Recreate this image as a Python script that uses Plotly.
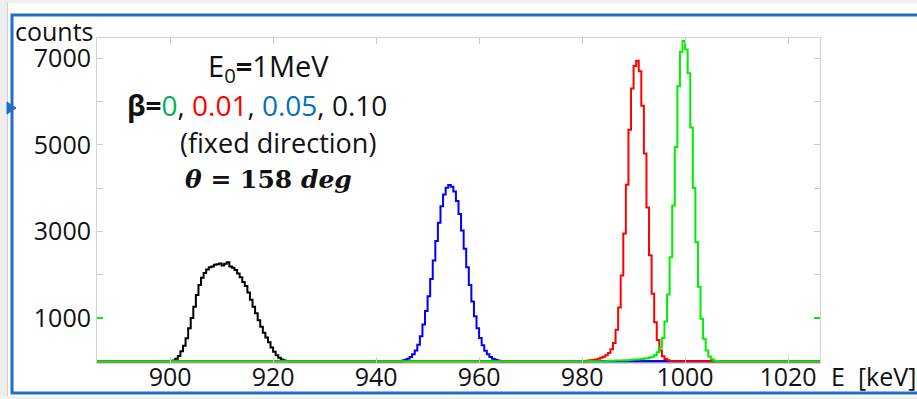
import numpy as np
import plotly.graph_objects as go

# ---------------- data ----------------
bin_width = 0.5                      # keV
e_min, e_max = 885.5, 1026.5         # histogram extent (keV)

series_names = ["β=0.10", "β=0.05", "β=0.01", "β=0"]
series_colors = ["#000000", "#0000ff", "#ff0000", "#00ee00"]

# beta = 0.10 (black), first bin edge and counts per 0.5 keV bin
beta010_start = 900.0
beta010_counts = [5, 20, 60, 120, 230, 360, 530, 760, 1000, 1260,
                  1530, 1760, 1930, 2040, 2120, 2170, 2190, 2230, 2240, 2260,
                  2210, 2250, 2290, 2190, 2160, 2110, 2030, 1940, 1830, 1740,
                  1590, 1420, 1260, 1110, 950, 800, 660, 550, 440, 320,
                  220, 140, 80, 40, 15, 5]

# beta = 0.05 (blue)
beta005_start = 945.0
beta005_counts = [20, 35, 60, 100, 160, 250, 380, 580, 850, 1160,
                  1500, 1900, 2330, 2780, 3200, 3580, 3850, 4010, 4070, 4030,
                  3920, 3700, 3400, 3020, 2600, 2170, 1760, 1380, 1040, 760,
                  540, 370, 245, 160, 100, 60, 35, 20]

# beta = 0.01 (red)
beta001_start = 981.0
beta001_counts = [15, 22, 30, 42, 58, 80, 105, 140, 190, 280,
                  420, 730, 1240, 1980, 2950, 4080, 5350, 6300, 6820, 6940,
                  6700, 5900, 4800, 3550, 2450, 1560, 900, 490, 250, 118,
                  52, 22, 8]

# beta = 0 (green)
beta000_start = 985.0
beta000_counts = [10, 12, 14, 16, 18, 20, 23, 26, 30, 34,
                  38, 43, 48, 54, 62, 72, 85, 105, 140, 210,
                  320, 540, 920, 1540, 2400, 3600, 4950, 6350, 7150, 7400,
                  7200, 6650, 5400, 4000, 2750, 1720, 980, 520, 250, 110,
                  45, 16, 6]

x_ticks = [900, 920, 940, 960, 980, 1000, 1020]
y_ticks = [1000, 2000, 3000, 4000, 5000, 6000, 7000]
y_tick_text = ["1000", "", "3000", "", "5000", "", "7000"]
x_range = [885.8, 1026.2]
y_range = [-40, 7467]

# ---------------- build histograms ----------------
edges = np.arange(e_min, e_max + bin_width / 2, bin_width)


def full_hist(start, counts):
    h = np.zeros(len(edges) - 1)
    i0 = int(round((start - e_min) / bin_width))
    h[i0:i0 + len(counts)] = counts
    return h


hists = [full_hist(beta010_start, beta010_counts),
         full_hist(beta005_start, beta005_counts),
         full_hist(beta001_start, beta001_counts),
         full_hist(beta000_start, beta000_counts)]

fig = go.Figure()
for name, col, h in zip(series_names, series_colors, hists):
    fig.add_trace(go.Scatter(
        x=edges, y=np.append(h, h[-1]), mode="lines", line_shape="hv",
        line=dict(color=col, width=2), name=name, showlegend=False,
        hoverinfo="skip"))

# ---------------- layout ----------------
W, H = 917, 399
L, R, T, B = 97, 97, 38, 36
pw, ph = W - L - R, H - T - B


def px(xp):
    return (xp - L) / pw


def py(yp):
    return (H - B - yp) / ph


FAM = "Open Sans, Noto Sans, sans-serif"
tick_font = dict(family=FAM, size=25, color="#111111")

fig.update_layout(
    template="none",
    width=W, height=H, autosize=False,
    margin=dict(l=L, r=R, t=T, b=B, pad=0, autoexpand=False),
    paper_bgcolor="white", plot_bgcolor="white",
    font=tick_font,
    xaxis=dict(range=x_range, tickvals=x_ticks, ticktext=[str(v) for v in x_ticks],
               ticks="inside", ticklen=6, tickcolor="#c8c8c8", showgrid=False,
               zeroline=False, showline=True, linecolor="#d4d4d4", linewidth=1,
               mirror="ticks", tickfont=tick_font, automargin=False,
               ticklabelstandoff=-8),
    yaxis=dict(range=y_range, tickvals=y_ticks, ticktext=y_tick_text,
               ticks="inside", ticklen=6, tickcolor="#c8c8c8", showgrid=False,
               zeroline=False, showline=True, linecolor="#d4d4d4", linewidth=1,
               mirror="ticks", tickfont=tick_font, automargin=False),
)

ann_font = dict(family=FAM, size=27, color="#111111")
annotations = [
    dict(text="counts", x=px(54), y=py(31), font=tick_font),
    dict(text="E  [keV]", x=px(873), y=py(376), font=tick_font),
    dict(text="E<sub>0</sub><b>=</b>1MeV", x=px(268), y=py(67),
         font=dict(family=FAM, size=29, color="#111111")),
    dict(text="<b>β=</b><span style='color:#00B050'>0</span>, "
              "<span style='color:#FF0000'>0.01</span>, "
              "<span style='color:#0070C0'>0.05</span>, 0.10",
         x=px(257), y=py(105), font=dict(family=FAM, size=28, color="#111111")),
    dict(text="(fixed direction)", x=px(278), y=py(142)),
    dict(text="<b><i>θ</i> = 158 <i>deg</i></b>", x=px(268), y=py(179),
         font=dict(family="DejaVu Serif, serif", size=25, color="#111111")),
]
for a in annotations:
    fig.add_annotation(xref="paper", yref="paper", showarrow=False,
                       xanchor="center", yanchor="middle",
                       font=a.pop("font", ann_font), **a)

# ---------------- frame decoration ----------------
blue = "#1f6fc5"
shapes = [
    dict(type="rect", x0=px(0), x1=px(7), y0=py(399), y1=py(0),
         fillcolor="#eeeeee", line_width=0),
    dict(type="line", x0=px(7.5), x1=px(7.5), y0=py(399), y1=py(0),
         line=dict(color="#cfcfcf", width=1)),
    dict(type="rect", x0=px(0), x1=px(917), y0=py(3), y1=py(0),
         fillcolor="#eeeeee", line_width=0),
    dict(type="rect", x0=px(0), x1=px(917), y0=py(399), y1=py(396),
         fillcolor="#f2f2f2", line_width=0),
    dict(type="rect", x0=px(12), x1=px(935), y0=py(393), y1=py(15),
         line=dict(color=blue, width=3), fillcolor="rgba(0,0,0,0)"),
    dict(type="path",
         path=f"M {px(7)} {py(102)} L {px(16)} {py(108)} L {px(7)} {py(114)} Z",
         fillcolor=blue, line=dict(color=blue, width=1)),
    dict(type="line", xref="paper", yref="y", x0=0, x1=px(103),
         y0=y_ticks[0], y1=y_ticks[0], line=dict(color="#00ee00", width=2)),
    dict(type="line", xref="paper", yref="y", x0=px(814), x1=1,
         y0=y_ticks[0], y1=y_ticks[0], line=dict(color="#00ee00", width=2)),
]
for s in shapes:
    s.setdefault("xref", "paper")
    s.setdefault("yref", "paper")
    s["layer"] = "above"
    fig.add_shape(**s)

page_fix = ("var s=document.createElement('style');"
            "s.textContent='html,body{margin:0!important;padding:0!important;"
            "overflow:hidden!important;}';"
            "document.head.appendChild(s);")

fig.write_html("out.html", config={"displayModeBar": False},
               post_script=page_fix)
